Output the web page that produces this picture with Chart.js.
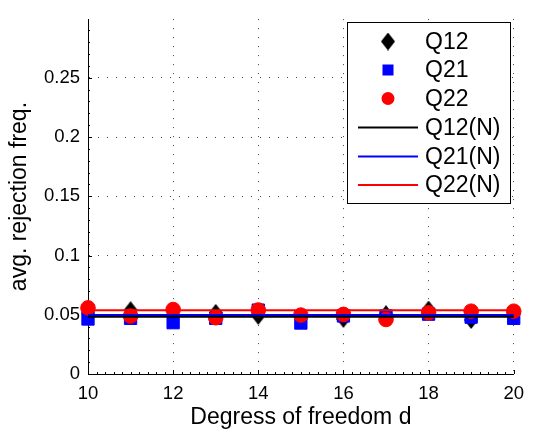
<!DOCTYPE html>
<html>
<head>
<meta charset="utf-8">
<script src="https://cdn.jsdelivr.net/npm/chart.js@4/dist/chart.umd.min.js"></script>
<style>
  html, body { margin: 0; padding: 0; background: #fff; }
  canvas { display: block; }
</style>
</head>
<body>
<canvas id="myChart" width="533" height="433"></canvas>
<script>
// degrees of freedom (x) and avg. rejection frequencies
var degrees = [10, 11, 12, 13, 14, 15, 16, 17, 18, 19, 20];
var q12 = [0.052, 0.0539, 0.050, 0.0516, 0.049, 0.047, 0.0465, 0.0505, 0.0544, 0.0456, 0.051];
var q21 = [0.0464, 0.047, 0.0433, 0.047, 0.0539, 0.043, 0.049, 0.049, 0.0505, 0.048, 0.047];
var q22 = [0.0558, 0.0489, 0.0544, 0.0475, 0.054, 0.0497, 0.0503, 0.046, 0.0516, 0.053, 0.053];

// nominal levels, drawn as flat lines across the range
var lineEnds = [10, 20];
var q12N = [0.0484, 0.0484];
var q21N = [0.0498, 0.0498];
var q22N = [0.0539, 0.0539];

var xTicks = [10, 12, 14, 16, 18, 20];
var yTicks = [0, 0.05, 0.1, 0.15, 0.2, 0.25];

var FONT = "'Liberation Sans', Arial, Helvetica, sans-serif";

// MATLAB style diamond, a bit taller than wide
function makeDiamond(w, h, color) {
  var c = document.createElement('canvas');
  c.width = w; c.height = h;
  var g = c.getContext('2d');
  g.fillStyle = color;
  g.beginPath();
  g.moveTo(w / 2, 0);
  g.lineTo(w, h / 2);
  g.lineTo(w / 2, h);
  g.lineTo(0, h / 2);
  g.closePath();
  g.fill();
  return c;
}
var diamond = makeDiamond(14, 18, '#000');

function pts(ys, xs) {
  return xs.map(function (x, i) { return { x: x, y: ys[i] }; });
}

function markerSet(label, ys, color, style, radius, order) {
  return {
    label: label,
    data: pts(ys, degrees),
    showLine: false,
    pointStyle: style,
    pointRadius: radius,
    pointHoverRadius: radius,
    pointBackgroundColor: color,
    pointBorderColor: color,
    pointBorderWidth: 1,
    borderColor: color,
    backgroundColor: color,
    clip: false,
    order: order
  };
}

function lineSet(label, ys, color) {
  return {
    label: label,
    data: pts(ys, lineEnds),
    borderColor: color,
    backgroundColor: color,
    borderWidth: 2,
    pointRadius: 0,
    clip: false,
    order: 0
  };
}

// inward major and minor ticks, like the matlab axes
var tickMarks = {
  id: 'tickMarks',
  beforeDatasetsDraw: function (chart) {
    var ctx = chart.ctx, xs = chart.scales.x, ys = chart.scales.y;
    var a = chart.chartArea;
    ctx.save();
    ctx.strokeStyle = '#000';
    ctx.lineWidth = 1;
    ctx.beginPath();
    var v, p;
    for (v = 10; v <= 20.001; v += 0.2) {
      p = Math.round(xs.getPixelForValue(v)) + 0.5;
      ctx.moveTo(p, a.bottom);
      ctx.lineTo(p, a.bottom - 2);
    }
    for (v = 0; v <= 0.2991; v += 0.01) {
      p = Math.round(ys.getPixelForValue(v)) + 0.5;
      ctx.moveTo(a.left, p);
      ctx.lineTo(a.left + 2, p);
    }
    xTicks.forEach(function (t) {
      p = Math.round(xs.getPixelForValue(t)) + 0.5;
      ctx.moveTo(p, a.bottom);
      ctx.lineTo(p, a.bottom - 4);
    });
    yTicks.forEach(function (t) {
      p = Math.round(ys.getPixelForValue(t)) + 0.5;
      ctx.moveTo(a.left, p);
      ctx.lineTo(a.left + 4, p);
    });
    ctx.stroke();
    ctx.restore();
  }
};

// boxed legend in the top right corner
var boxLegend = {
  id: 'boxLegend',
  afterDraw: function (chart) {
    var ctx = chart.ctx;
    var bx = 347, by = 22, bw = 163, bh = 181;
    var rowY = [41.5, 70, 98.5, 127.5, 156.5, 185];
    ctx.save();
    ctx.fillStyle = '#fff';
    ctx.fillRect(bx, by, bw, bh);
    ctx.strokeStyle = '#000';
    ctx.lineWidth = 1;
    ctx.strokeRect(bx + 0.5, by + 0.5, bw, bh);

    chart.data.datasets.forEach(function (ds, i) {
      var y = rowY[i];
      var mx = 388;
      ctx.fillStyle = ds.borderColor;
      ctx.strokeStyle = ds.borderColor;
      if (ds.showLine === false) {
        if (ds.pointStyle === diamond) {
          ctx.drawImage(diamond, mx - 7, y - 9);
        } else if (ds.pointStyle === 'rect') {
          ctx.fillRect(mx - 5.5, y - 5.5, 11, 11);
        } else {
          ctx.beginPath();
          ctx.arc(mx, y, 6.5, 0, Math.PI * 2);
          ctx.fill();
        }
      } else {
        ctx.lineWidth = 2;
        ctx.beginPath();
        ctx.moveTo(358, y);
        ctx.lineTo(418, y);
        ctx.stroke();
      }
      ctx.fillStyle = '#000';
      ctx.font = '23px ' + FONT;
      ctx.textBaseline = 'middle';
      ctx.textAlign = 'left';
      ctx.fillText(ds.label, 425, y + 1);
    });
    ctx.restore();
  }
};

var ctx = document.getElementById('myChart').getContext('2d');
window.myChart = new Chart(ctx, {
  type: 'line',
  data: {
    datasets: [
      markerSet('Q12', q12, '#000000', diamond, 9, 3),
      markerSet('Q21', q21, '#0000ff', 'rect', 8.7, 2),
      markerSet('Q22', q22, '#ff0000', 'circle', 7.3, 1),
      lineSet('Q12(N)', q12N, '#000000'),
      lineSet('Q21(N)', q21N, '#0000ff'),
      lineSet('Q22(N)', q22N, '#ff0000')
    ]
  },
  options: {
    responsive: false,
    animation: false,
    events: [],
    layout: { padding: { top: 12, right: 14, left: 0, bottom: 0 } },
    plugins: {
      legend: { display: false },
      tooltip: { enabled: false }
    },
    scales: {
      x: {
        type: 'linear',
        min: 10,
        max: 20,
        afterBuildTicks: function (s) {
          s.ticks = xTicks.map(function (v) { return { value: v }; });
        },
        afterFit: function (s) { s.height = 59; },
        ticks: {
          color: '#000',
          font: { family: FONT, size: 18.5 },
          padding: 9,
          maxRotation: 0,
          callback: function (v) { return String(v); }
        },
        grid: { color: '#444', lineWidth: 1, drawTicks: false },
        border: { display: true, color: '#000', width: 1, dash: [1, 8] },
        title: {
          display: true,
          text: 'Degress of freedom d',
          color: '#000',
          font: { family: FONT, size: 23 },
          padding: { top: 0, bottom: 2 }
        }
      },
      y: {
        type: 'linear',
        min: 0,
        max: 0.2995,
        afterBuildTicks: function (s) {
          s.ticks = yTicks.map(function (v) { return { value: v }; });
        },
        afterFit: function (s) { s.width = 88; },
        ticks: {
          color: '#000',
          font: { family: FONT, size: 18.5 },
          padding: 8,
          callback: function (v) { return String(Math.round(v * 100) / 100); }
        },
        grid: { color: '#444', lineWidth: 1, drawTicks: false },
        border: { display: true, color: '#000', width: 1, dash: [1, 8] },
        title: {
          display: true,
          text: 'avg. rejection freq.',
          color: '#000',
          font: { family: FONT, size: 23 },
          padding: { top: 6, bottom: 0 }
        }
      }
    }
  },
  plugins: [tickMarks, boxLegend]
});
</script>
</body>
</html>
